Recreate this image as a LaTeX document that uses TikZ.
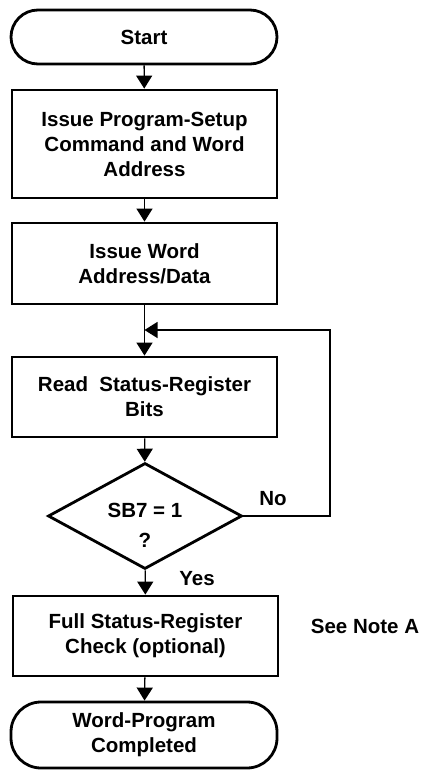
\documentclass[tikz,border=0pt]{standalone}
\usepackage{fontspec}
\setmainfont{Liberation Sans}
\usetikzlibrary{arrows.meta,shapes.geometric}
\begin{document}
\begin{tikzpicture}[x=1pt,y=-1pt,
  txt/.style={font=\fontsize{20.5}{25}\selectfont\bfseries, align=center},
  term/.style={txt, draw, line width=2.8pt, rounded corners=27pt, minimum width=266pt, inner sep=0pt},
  proc/.style={txt, draw, line width=2.8pt, minimum width=265pt, inner sep=0pt},
  dec/.style={draw, line width=2.8pt, diamond, minimum width=194pt, minimum height=106pt, inner sep=0pt, aspect=1.83},
  conn/.style={line width=1.3pt, -{Triangle[width=16pt,length=13pt]}},
  lbl/.style={font=\fontsize{20.5}{25}\selectfont\bfseries}
]
\useasboundingbox (0,0) rectangle (428,771);
\node[term, minimum height=54pt] (start) at (144,37) {Start};
\node[proc, minimum height=108pt] (b1) at (144.5,144) {Issue Program-Setup\\Command and Word\\Address};
\node[proc, minimum height=81pt] (b2) at (144.5,263.5) {Issue Word\\Address/Data};
\node[proc, minimum height=80pt] (b3) at (144.5,397) {Read\ \ Status-Register\\Bits};
\node[dec] (d) at (145,516) {};
\node[txt, font=\fontsize{20.5}{30}\selectfont\bfseries] (dtxt) at (145,525) {SB7 = 1\\?};
\node[proc, minimum height=80pt] (b4) at (145.5,636) {Full Status-Register\\Check (optional)};
\node[term, minimum height=66pt, rounded corners=30pt] (end) at (144,735) {Word-Program\\Completed};
\coordinate (j) at (144.5,330);
\coordinate (r1) at (330,516);
\coordinate (r2) at (330,330);
\node[lbl] (no) at (273,499) {No};
\node[lbl] (yes) at (197,579) {Yes};
\node[lbl] (note) at (365,626) {See Note A};
\draw[conn] (start) -- (b1);
\draw[conn] (b1) -- (b2);
\draw[conn] (b2) -- (b3);
\draw[conn] (b3) -- (d);
\draw[conn] (d) -- (b4);
\draw[conn] (b4) -- (end);
\draw[conn] (d.east) -- (r1) -- (r2) -- (j);
\end{tikzpicture}
\end{document}
